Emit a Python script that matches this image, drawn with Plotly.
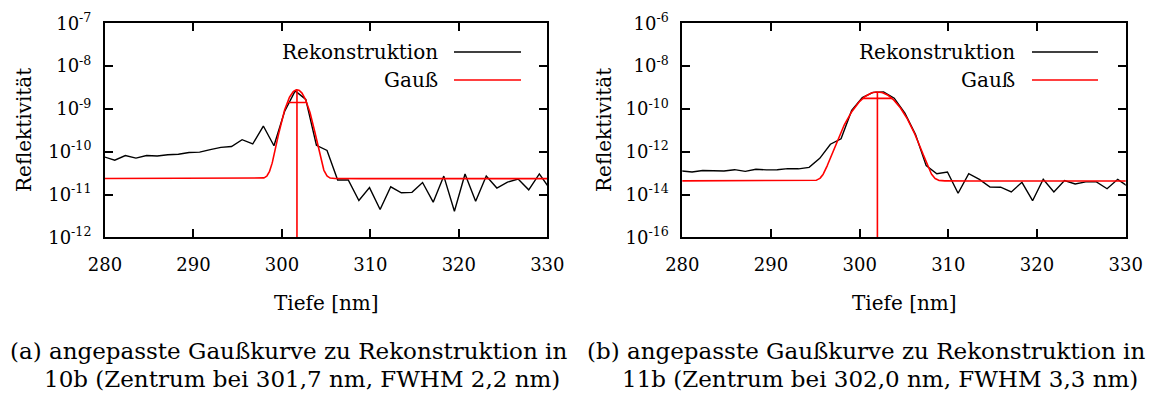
import numpy as np
import plotly.graph_objects as go

W, H = 1152, 394
FONT = "'DejaVu Serif', 'Liberation Serif', serif"

# ---------------- data ----------------
depth_nm = [279.9, 281.1, 282.3, 283.5, 284.7, 285.9, 287.1, 288.3, 289.5, 290.7,
            291.9, 293.1, 294.3, 295.5, 296.7, 297.9, 299.1, 300.3, 301.5, 302.7,
            303.9, 305.1, 306.3, 307.5, 308.7, 309.9, 311.1, 312.3, 313.5, 314.7,
            315.9, 317.1, 318.3, 319.5, 320.7, 321.9, 323.1, 324.3, 325.5, 326.7,
            327.9, 329.1, 330.3]

# log10 of the reconstructed reflectivity, panel (a)
log_refl_a = [-10.12, -10.20, -10.09, -10.15, -10.09, -10.10, -10.07, -10.06, -10.02, -10.01,
              -9.95, -9.90, -9.88, -9.72, -9.82, -9.40, -9.86, -9.06, -8.58, -8.78,
              -9.85, -9.97, -10.66, -10.66, -11.14, -10.84, -11.35, -10.82, -10.96, -10.95,
              -10.72, -11.18, -10.57, -11.39, -10.52, -11.16, -10.57, -10.85, -10.71, -10.64,
              -10.89, -10.52, -10.87]

# log10 of the reconstructed reflectivity, panel (b)
log_refl_b = [-12.90, -12.95, -12.88, -12.88, -12.90, -12.84, -12.92, -12.82, -12.85, -12.84,
              -12.79, -12.80, -12.73, -12.31, -11.65, -11.40, -10.07, -9.47, -9.23, -9.21,
              -9.50, -10.20, -11.20, -12.65, -13.03, -12.95, -13.94, -13.03, -13.29, -13.65,
              -13.66, -13.88, -13.43, -14.29, -13.29, -13.88, -13.35, -13.51, -13.41, -13.41,
              -13.73, -13.29, -13.64]

# fitted Gauss parameters (centre and FWHM from the captions)
gauss_a_center, gauss_a_fwhm, gauss_a_peak, gauss_a_base = 301.7, 2.2, 2.8e-9, 2.35e-11
gauss_b_center, gauss_b_fwhm, gauss_b_peak, gauss_b_base = 302.0, 3.3, 6.2e-10, 4.3e-14

x_ticks = [280, 290, 300, 310, 320, 330]
y_exp_a = [-12, -11, -10, -9, -8, -7]
y_exp_b = [-16, -14, -12, -10, -8, -6]

legend_labels = ["Rekonstruktion", "Gauß"]
x_title = "Tiefe [nm]"
y_title = "Reflektivität"
caption_a = ["(a) angepasste Gaußkurve zu Rekonstruktion in",
             "10b (Zentrum bei 301,7 nm, FWHM 2,2 nm)"]
caption_b = ["(b) angepasste Gaußkurve zu Rekonstruktion in",
             "11b (Zentrum bei 302,0 nm, FWHM 3,3 nm)"]

# ---------------- helpers ----------------
def px(x):
    return x / W

def py(y):
    return 1 - y / H

def gauss(x, c, fwhm, peak, base):
    s = fwhm / (2 * np.sqrt(2 * np.log(2)))
    return base + (peak - base) * np.exp(-(x - c) ** 2 / (2 * s ** 2))

xfine = np.linspace(278, 332, 1500)

fig = go.Figure()

panels = [
    dict(xa="x", ya="y", logv=log_refl_a, c=gauss_a_center, f=gauss_a_fwhm,
         p=gauss_a_peak, b=gauss_a_base, ybot=10.0 ** y_exp_a[0]),
    dict(xa="x2", ya="y2", logv=log_refl_b, c=gauss_b_center, f=gauss_b_fwhm,
         p=gauss_b_peak, b=gauss_b_base, ybot=10.0 ** y_exp_b[0]),
]

for pn in panels:
    yv = [10.0 ** v for v in pn["logv"]]
    fig.add_trace(go.Scatter(x=depth_nm, y=yv, mode="lines", xaxis=pn["xa"], yaxis=pn["ya"],
                             line=dict(color="black", width=1.4), showlegend=False))
    fig.add_trace(go.Scatter(x=xfine, y=gauss(xfine, pn["c"], pn["f"], pn["p"], pn["b"]),
                             mode="lines", xaxis=pn["xa"], yaxis=pn["ya"],
                             line=dict(color="#ff0000", width=1.6), showlegend=False))
    # centre line
    fig.add_trace(go.Scatter(x=[pn["c"], pn["c"]], y=[pn["ybot"], pn["p"]], mode="lines",
                             xaxis=pn["xa"], yaxis=pn["ya"],
                             line=dict(color="#ff0000", width=1.6), showlegend=False))
    # FWHM line
    half = pn["b"] + (pn["p"] - pn["b"]) / 2
    fig.add_trace(go.Scatter(x=[pn["c"] - pn["f"] / 2, pn["c"] + pn["f"] / 2], y=[half, half],
                             mode="lines", xaxis=pn["xa"], yaxis=pn["ya"],
                             line=dict(color="#ff0000", width=1.6), showlegend=False))

axis_common = dict(showline=True, linecolor="black", linewidth=2, mirror="allticks",
                   ticks="inside", ticklen=8, tickwidth=1.5, tickcolor="black",
                   showgrid=False, zeroline=False, automargin=False,
                   tickfont=dict(family=FONT, size=18, color="black"))

x_dom_a = [px(105), px(547.3)]
x_dom_b = [px(682.3), px(1125.7)]
y_dom = [py(237.3), py(23.3)]

fig.update_layout(
    width=W, height=H, margin=dict(l=0, r=0, t=0, b=0, pad=0), autosize=False,
    paper_bgcolor="white", plot_bgcolor="white", showlegend=False,
    font=dict(family=FONT, color="black"),
    xaxis=dict(domain=x_dom_a, anchor="y", range=[280, 330], tickvals=x_ticks,
               ticklabelstandoff=10, **axis_common),
    yaxis=dict(domain=y_dom, anchor="x", type="log", range=[-12, -7],
               tickvals=[10.0 ** e for e in y_exp_a],
               ticktext=["10<sup>%d</sup>" % e for e in y_exp_a],
               ticklabelstandoff=8, **axis_common),
    xaxis2=dict(domain=x_dom_b, anchor="y2", range=[280, 330], tickvals=x_ticks,
                ticklabelstandoff=10, **axis_common),
    yaxis2=dict(domain=y_dom, anchor="x2", type="log", range=[-16, -6],
                tickvals=[10.0 ** e for e in y_exp_b],
                ticktext=["10<sup>%d</sup>" % e for e in y_exp_b],
                ticklabelstandoff=8, **axis_common),
)

ann = []
shapes = []
txt_font = dict(family=FONT, size=20, color="black")
cap_font = dict(family=FONT, size=23, color="black")

for (xc, ylab_x, cap, cap_x0, cap_x1, leg_txt_r, leg_l0, leg_l1) in [
        (326, 24, caption_a, 8, 42, 440, 454, 521),
        (904, 604, caption_b, 585, 620, 1017, 1032, 1098)]:
    ann.append(dict(text=x_title, x=px(xc), y=py(303), xref="paper", yref="paper",
                    showarrow=False, xanchor="center", yanchor="middle", font=txt_font))
    ann.append(dict(text=y_title, x=px(ylab_x), y=py(130), xref="paper", yref="paper",
                    showarrow=False, xanchor="center", yanchor="middle", textangle=-90,
                    font=txt_font))
    ann.append(dict(text=cap[0], x=px(cap_x0), y=py(351), xref="paper", yref="paper",
                    showarrow=False, xanchor="left", yanchor="middle", font=cap_font))
    ann.append(dict(text=cap[1], x=px(cap_x1), y=py(379), xref="paper", yref="paper",
                    showarrow=False, xanchor="left", yanchor="middle", font=cap_font))
    for lbl, yy, col in [(legend_labels[0], 52, "black"), (legend_labels[1], 80, "#ff0000")]:
        ann.append(dict(text=lbl, x=px(leg_txt_r), y=py(yy), xref="paper", yref="paper",
                        showarrow=False, xanchor="right", yanchor="middle", font=txt_font))
        shapes.append(dict(type="line", xref="paper", yref="paper",
                           x0=px(leg_l0), x1=px(leg_l1), y0=py(yy), y1=py(yy),
                           line=dict(color=col, width=1.6)))

fig.update_layout(annotations=ann, shapes=shapes)
fig.write_html("out.html", config={"displayModeBar": False},
               post_script="document.body.style.margin='0';document.body.style.overflow='hidden';")
